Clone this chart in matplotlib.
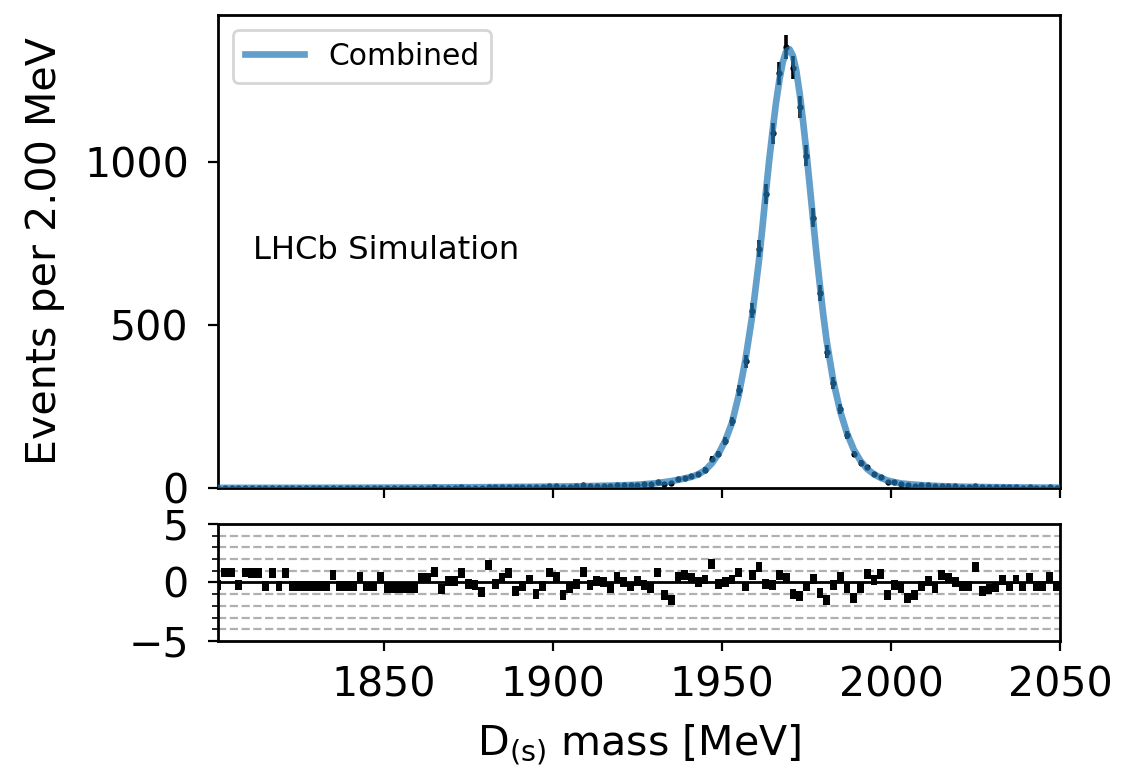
import numpy as np
import matplotlib
matplotlib.use("Agg")
import matplotlib.pyplot as plt

# bin centres (2 MeV bins) and observed events
bin_centres = list(range(1801, 2051, 2))
events = [
    0, 1, 1, 0, 1, 1, 1, 0, 1, 0, 1, 0, 0, 0, 0, 0, 0, 1, 0, 0,
    0, 1, 0, 0, 1, 0, 0, 0, 0, 0, 1, 1, 2, 0, 1, 1, 2, 1, 1, 0,
    4, 2, 3, 4, 2, 3, 4, 2, 3, 6, 5, 2, 4, 5, 8, 5, 7, 7, 6, 9,
    8, 8, 10, 11, 11, 18, 12, 14, 28, 32, 36, 42, 56, 89, 104, 145, 204, 299, 388, 544,
    734, 902, 1087, 1271, 1353, 1289, 1168, 1019, 829, 598, 418, 321, 242, 162, 104, 78, 64, 43, 35, 18,
    17, 12, 8, 7, 8, 8, 6, 7, 6, 5, 4, 3, 6, 2, 2, 2, 3, 2, 3, 1,
    2, 1, 1, 2, 1,
]

# pulls per bin
pulls = [
    -0.25, 0.85, 0.85, -0.2, 0.85, 0.8, 0.8, -0.3, 0.8, -0.3,
    0.8, -0.3, -0.3, -0.3, -0.3, -0.3, -0.3, 0.6, -0.3, -0.3,
    -0.3, 0.5, -0.35, -0.35, 0.45, -0.45, -0.45, -0.45, -0.45, -0.45,
    0.35, 0.35, 0.9, -0.55, 0.15, 0.15, 0.8, -0.1, -0.2, -0.8,
    1.5, -0.1, 0.4, 0.8, -0.7, -0.3, 0.25, -1.0, -0.3, 0.85,
    0.5, -1.1, -0.45, -0.1, 0.9, -0.2, 0.1, 0.0, -0.5, 0.5,
    0.0, -0.35, 0.1, -0.25, -0.45, 0.85, -1.1, -1.5, 0.5, 0.6,
    0.35, 0.05, 0.25, 1.6, -0.1, 0.0, 0.25, 0.85, -0.35, 0.6,
    1.3, -0.1, -0.25, 0.6, 0.4, -1.0, -1.2, -0.35, 0.3, -0.9,
    -1.5, -0.2, 0.45, -0.5, -1.3, -0.5, 0.75, 0.2, 0.7, -1.1,
    -0.25, -0.5, -1.3, -1.1, -0.3, 0.1, -0.5, 0.6, 0.35, 0.05,
    -0.3, -0.3, 1.3, -0.7, -0.6, -0.4, 0.2, -0.35, 0.25, -0.35,
    0.4, -0.3, -0.3, 0.5, -0.3,
]

# combined fit curve
fit_mass = [1801, 1820, 1840, 1860, 1880, 1900, 1910, 1920, 1925, 1930,
            1935, 1938, 1941, 1943, 1945, 1947, 1949, 1951, 1953, 1955,
            1957, 1959, 1961, 1962, 1963, 1964, 1965, 1966, 1967, 1968,
            1969, 1970, 1971, 1972, 1973, 1974, 1975, 1976, 1977, 1978,
            1979, 1980, 1981, 1983, 1985, 1987, 1989, 1991, 1993, 1995,
            1997, 1999, 2001, 2003, 2006, 2010, 2015, 2020, 2030, 2040, 2050]
fit_events = [0.3, 0.5, 0.8, 1.4, 2.5, 4.2, 5.6, 8, 10, 14,
              21, 27, 34, 42, 54, 75, 105, 145, 200, 285,
              395, 530, 700, 800, 905, 1005, 1095, 1180, 1250, 1305,
              1338, 1345, 1325, 1280, 1210, 1125, 1030, 925, 820, 715,
              620, 530, 450, 325, 235, 168, 118, 83, 58, 42,
              31, 23, 18, 14, 11, 8, 5.5, 4, 2.5, 1.5, 1]

FS = 14.8

fig = plt.figure(figsize=(5.605, 3.865), dpi=200, facecolor='white')
ax = fig.add_axes([0.1945, 0.3687, 0.7511, 0.6119])
axp = fig.add_axes([0.1945, 0.1708, 0.7511, 0.1513], sharex=ax)

# data points
ax.errorbar(bin_centres, events, yerr=np.sqrt(events), fmt='.', color='black',
            ms=2.5, elinewidth=1.3, capsize=0, zorder=2)
# fit on top
ax.plot(fit_mass, fit_events, color='#1f77b4', alpha=0.7, lw=2.4,
        label='Combined', zorder=3)

ax.set_xlim(1801, 2050)
ax.set_ylim(0, 1450)
ax.set_yticks([0, 500, 1000])
ax.set_ylabel('Events per 2.00 MeV', fontsize=FS, labelpad=7)
ax.tick_params(labelsize=FS, labelbottom=False)
ax.tick_params(axis='y', pad=7)
ax.legend(loc='upper left', fontsize=10.7)
ax.text(0.042, 0.503, 'LHCb Simulation', transform=ax.transAxes,
        ha='left', va='center', fontsize=11.6)

# pull panel
for v in [-4, -3, -2, -1, 1, 2, 3, 4]:
    axp.axhline(v, color='#b0b0b0', lw=0.8, ls='--', zorder=0)
axp.axhline(0, color='black', lw=1.0, zorder=1)
pulls_arr = np.array(pulls)
axp.bar(bin_centres, 0.85, bottom=pulls_arr - 0.42, width=2.0,
        color='black', zorder=2)
axp.set_ylim(-5, 5)
axp.set_yticks([-5, 0, 5])
axp.set_yticks(range(-4, 5), minor=True)
axp.set_xticks([1850, 1900, 1950, 2000, 2050])
axp.tick_params(labelsize=FS)
axp.tick_params(axis='y', pad=7)
axp.tick_params(axis='x', pad=5.5)
axp.set_xlabel(r'D$_{\rm (s)}$ mass [MeV]', fontsize=FS, labelpad=6)

for a in (ax, axp):
    for s in a.spines.values():
        s.set_linewidth(1.0)

fig.savefig('out.png', dpi=200, facecolor='white')
